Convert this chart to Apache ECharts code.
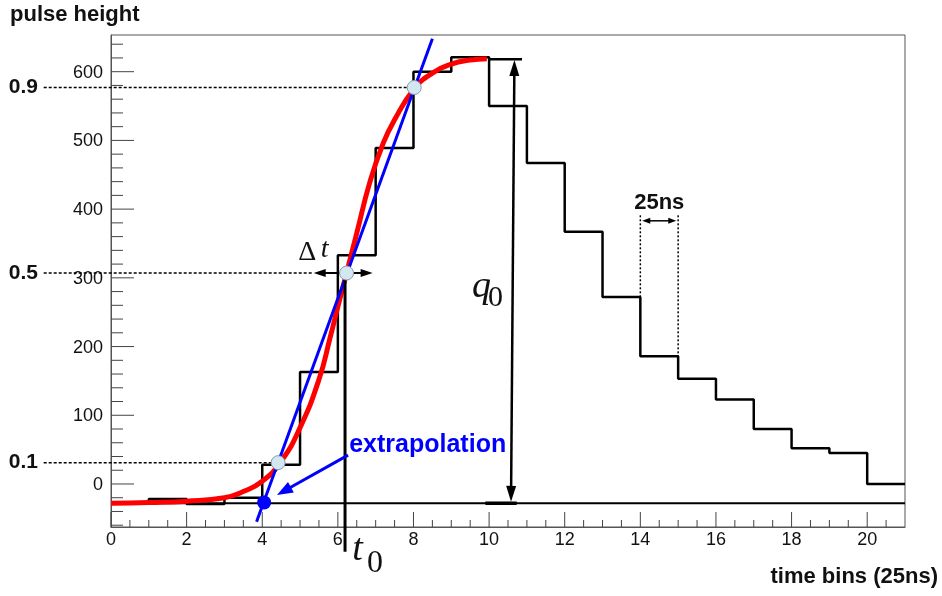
<!DOCTYPE html>
<html><head><meta charset="utf-8">
<script src="https://cdn.jsdelivr.net/npm/echarts@6/dist/echarts.min.js"></script>
<style>html,body{margin:0;padding:0;background:#fff}#c{width:942px;height:596px}</style>
</head><body><div id="c"></div>
<script>
// ---- data ----
const binEdges = [0,1,2,3,4,5,6,7,8,9,10,11,12,13,14,15,16,17,18,19,20,21];
const binCounts = [-27,-22,-29,-20,28,163,333,489,600,621,550,467,367,272,186,153,123,80,52,45,0];
const fitX = [0,1,2,3,3.5,4,4.5,5,5.5,5.8,6,6.23,6.5,6.85,7.2,7.5,8.02,8.5,9,9.5,9.94];
const fitY = [-28,-27,-25,-20,-11,4,33,82,152,214,258,307,365,440,496,530,575,598,611,617,619];
const tangentX = [3.85, 8.5];
const tangentY = [-55, 648];
const baselineX = [0, 21];
const baselineY = [-28, -28];
const levelLabels = ['0.1','0.5','0.9'];
const levelX = [4.42, 6.23, 8.02];
const levelY = [31, 307, 577];
const levelLineEndX = [4.42, 5.36, 8.02];
const extrapPoint = [4.05, -27];
const xTickLabels = [0,2,4,6,8,10,12,14,16,18,20];
const yTickValues = [0,100,200,300,400,500,600];
const yTickLabels = ['0','100','200','300','400','500','600'];
const Y_MIN = -62.6, Y_MAX = 653.4, X_MIN = 0, X_MAX = 21;
// annotation anchors (data units)
const t0X = 6.19, t0Top = 307, t0Bottom = -98.5;
const dtArrow = [5.36, 6.92, 307];
const q0Arrow = [[10.67, 617], [10.58, -26]];
const q0TopCap = [10.0, 10.87, 618];
const q0BottomCap = [9.9, 10.73, -28];
const extrapArrow = [[6.27, 42], [4.39, -16]];
const nsLines = [[14, 391, 272], [15, 391, 186]];
const nsArrow = [14.05, 14.95, 383];

const SANS = '"Liberation Sans", Arial, sans-serif';
const SERIF = '"Liberation Serif", "Times New Roman", serif';

function overlay(params, api) {
  const c = p => api.coord(p);
  const kids = [];
  const line = (a, b, st) => kids.push({type:'line', shape:{x1:a[0],y1:a[1],x2:b[0],y2:b[1]}, style:Object.assign({stroke:'#000', lineWidth:1, fill:null}, st||{})});
  const head = (tip, from, len, wid, color) => {
    const dx = tip[0]-from[0], dy = tip[1]-from[1], d = Math.hypot(dx, dy);
    const ux = dx/d, uy = dy/d, bx = tip[0]-ux*len, by = tip[1]-uy*len;
    kids.push({type:'polygon', shape:{points:[[tip[0],tip[1]],[bx-uy*wid/2, by+ux*wid/2],[bx+uy*wid/2, by-ux*wid/2]]}, style:{fill:color}});
  };
  const arrow = (a, b, lw, len, wid, color, both) => {
    const dx=b[0]-a[0], dy=b[1]-a[1], d=Math.hypot(dx,dy), ux=dx/d, uy=dy/d;
    const a2 = both ? [a[0]+ux*len*0.6, a[1]+uy*len*0.6] : a;
    const b2 = [b[0]-ux*len*0.6, b[1]-uy*len*0.6];
    line(a2, b2, {stroke:color, lineWidth:lw});
    head(b, a, len, wid, color);
    if (both) head(a, b, len, wid, color);
  };
  const text = (p, str, st) => kids.push({type:'text', x:p[0], y:p[1], style:Object.assign({text:str, fill:'#111', fontFamily:SANS, fontSize:18, align:'left', verticalAlign:'middle'}, st)});

  // y ticks
  for (let v = -60; v <= 640; v += 20) {
    const p = c([X_MIN, v]);
    const major = v % 100 === 0;
    line([p[0], p[1]], [p[0] + (major ? 23 : 12), p[1]], {stroke:'#444', lineWidth:1});
  }
  yTickValues.forEach((v, i) => {
    const p = c([X_MIN, v]);
    text([p[0]-8, p[1]+1], yTickLabels[i], {align:'right'});
  });
  // x ticks
  for (let v = 0; v <= 20.5; v += 0.5) {
    const p = c([v, Y_MIN]);
    const major = v % 2 === 0;
    line([p[0], p[1]], [p[0], p[1] - (major ? 15 : 7)], {stroke:'#444', lineWidth:1});
  }

  // level dashed lines + labels
  levelY.forEach((y, i) => {
    const a = c([-1.78, y]), b = c([levelLineEndX[i], y]);
    line(a, b, {stroke:'#000', lineWidth:1.5, lineDash:[3,2]});
    const lp = c([-1.93, y]);
    text([lp[0], lp[1]], levelLabels[i], {align:'right', fontWeight:'bold', fontSize:21, fill:'#111'});
  });

  // t0 vertical line
  line(c([t0X, t0Top]), c([t0X, t0Bottom]), {stroke:'#000', lineWidth:3});
  // delta t arrow
  arrow(c([dtArrow[0], dtArrow[2]]), c([dtArrow[1], dtArrow[2]]), 2, 12, 8, '#000', true);
  // q0 arrow and caps
  line(c([q0TopCap[0], q0TopCap[2]]), c([q0TopCap[1], q0TopCap[2]]), {lineWidth:2.5});
  line(c([q0BottomCap[0], q0BottomCap[2]]), c([q0BottomCap[1], q0BottomCap[2]]), {lineWidth:3.5});
  arrow(c(q0Arrow[0]), c(q0Arrow[1]), 2.5, 16, 10, '#000', true);
  // extrapolation arrow
  arrow(c(extrapArrow[0]), c(extrapArrow[1]), 3, 16, 12, '#0000ff', false);
  // 25ns markers
  nsLines.forEach(l => line(c([l[0], l[1]]), c([l[0], l[2]]), {lineWidth:1.5, lineDash:[2,2]}));
  arrow(c([nsArrow[0], nsArrow[2]]), c([nsArrow[1], nsArrow[2]]), 1.5, 8, 6, '#000', true);

  // level circles
  levelX.forEach((x, i) => {
    const p = c([x, levelY[i]]);
    kids.push({type:'circle', shape:{cx:p[0], cy:p[1], r:7}, style:{fill:'#d3e7f3', stroke:'#8a9aa6', lineWidth:1}});
  });
  // extrapolated point
  const ep = c(extrapPoint);
  kids.push({type:'circle', shape:{cx:ep[0], cy:ep[1], r:7}, style:{fill:'#0000ff'}});

  // texts
  text(c([6.3, 56]), 'extrapolation', {fontWeight:'bold', fontSize:25, fill:'#0000ff'});
  text(c([14.5, 409]), '25ns', {fontWeight:'bold', fontSize:22, align:'center'});
  text(c([4.95, 336]), 'Δ', {fontFamily:SERIF, fontSize:28, fill:'#111'});
  text(c([5.55, 341]), 't', {fontFamily:SERIF, fontStyle:'italic', fontSize:28, fill:'#111'});
  text(c([9.55, 286]), 'q', {fontFamily:SERIF, fontStyle:'italic', fontSize:38, fill:'#111'});
  text(c([9.97, 271]), '0', {fontFamily:SERIF, fontSize:30, fill:'#111'});
  text(c([6.38, -95.6]), 't', {fontFamily:SERIF, fontStyle:'italic', fontSize:38, fill:'#111'});
  text(c([6.77, -116]), '0', {fontFamily:SERIF, fontSize:32, fill:'#111'});

  return {type:'group', children:kids};
}

const chart = echarts.init(document.getElementById('c'), null, {renderer:'canvas'});
chart.setOption({
  animation: false,
  backgroundColor: '#fff',
  grid: {left:111, right:37, top:35, bottom:69, show:true, borderColor:'#555', borderWidth:1, backgroundColor:'transparent'},
  xAxis: {type:'value', min:X_MIN, max:X_MAX, interval:2,
    axisLine:{show:true, onZero:false, lineStyle:{color:'#555', width:1}},
    axisTick:{show:false}, splitLine:{show:false},
    axisLabel:{margin:4, fontSize:18, color:'#111', fontFamily:SANS,
      formatter: v => xTickLabels.indexOf(v) >= 0 ? String(v) : ''}},
  yAxis: {type:'value', min:Y_MIN, max:Y_MAX,
    axisLine:{show:true, onZero:false, lineStyle:{color:'#555', width:1}},
    axisTick:{show:false}, axisLabel:{show:false}, splitLine:{show:false}},
  graphic: [
    {type:'text', left:10, top:4, style:{text:'pulse height', fontFamily:SANS, fontWeight:'bold', fontSize:22, fill:'#111'}},
    {type:'text', right:4, top:566, style:{text:'time bins (25ns)', fontFamily:SANS, fontWeight:'bold', fontSize:22, fill:'#111'}}
  ],
  series: [
    {name:'histogram', type:'line', step:'end', symbol:'none', z:2,
     data: binEdges.map((e, i) => [e, binCounts[Math.min(i, binCounts.length-1)]]),
     lineStyle:{color:'#000', width:2.5}},
    {name:'baseline', type:'line', symbol:'none', z:2,
     data: baselineX.map((x, i) => [x, baselineY[i]]), lineStyle:{color:'#000', width:2}},
    {name:'fit', type:'line', symbol:'none', smooth:0.5, z:3,
     data: fitX.map((x, i) => [x, fitY[i]]), lineStyle:{color:'#ff0000', width:5}},
    {name:'tangent', type:'line', symbol:'none', z:4,
     data: tangentX.map((x, i) => [x, tangentY[i]]), lineStyle:{color:'#0000ff', width:3}},
    {name:'overlay', type:'custom', z:10, silent:true, clip:false, data:[[0,0]], renderItem: overlay}
  ]
});
</script>
</body></html>
